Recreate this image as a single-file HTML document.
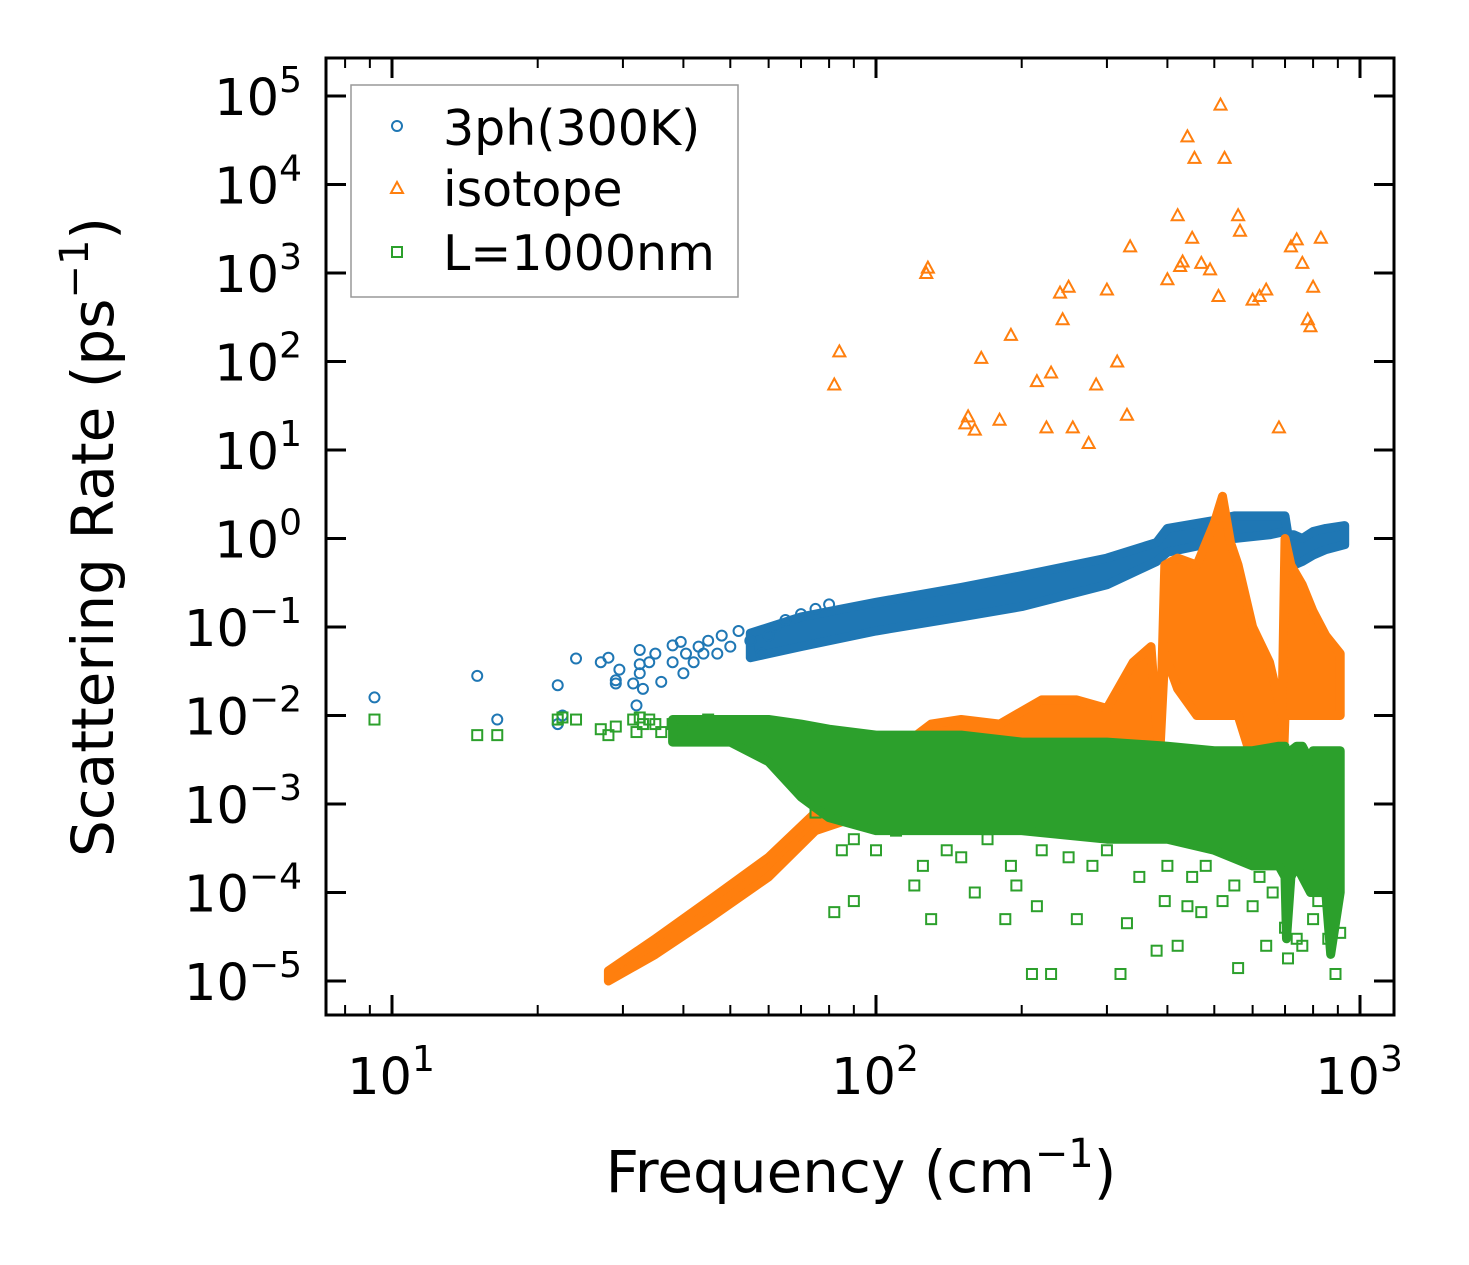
<!DOCTYPE html>
<html><head><meta charset="utf-8"><style>
html,body{margin:0;padding:0;background:#fff;}
svg{display:block;font-family:"DejaVu Sans","Liberation Sans",sans-serif;}
</style></head><body>
<svg id="chart" width="1469" height="1265" viewBox="0 0 1469 1265" xmlns="http://www.w3.org/2000/svg">
<rect width="1469" height="1265" fill="#fff"/>
<g id="marks"></g>
<g id="axes"></g>
<text x="861" y="1192" font-size="58" text-anchor="middle">Frequency (cm<tspan font-size="40" dy="-25">−1</tspan><tspan dy="25">)</tspan></text>
<text transform="translate(113,537) rotate(-90)" font-size="58" text-anchor="middle">Scattering Rate (ps<tspan font-size="40" dy="-25">−1</tspan><tspan dy="25">)</tspan></text>
<g>
<rect x="351" y="85" width="387" height="212" fill="#fff" stroke="#999" stroke-width="1.5"/>
<g>
<circle cx="397" cy="126" r="5" fill="none" stroke="#1f77b4" stroke-width="2"/>
<text x="443" y="145" font-size="49">3ph(300K)</text></g>
<g>
<polygon points="397,182 403,193 391,193" fill="none" stroke="#ff7f0e" stroke-width="2"/>
<text x="443" y="206" font-size="49">isotope</text></g>
<g>
<rect x="392" y="247" width="10" height="10" fill="none" stroke="#2ca02c" stroke-width="2"/>
<text x="443" y="270" font-size="49">L=1000nm</text></g>
</g>
</svg>
<script>
// ---- data ----
const blueX=[9.2,15,16.5,22,22.5,22,24,27,28,29,29.5,29,31.5,32,32.5,32.5,32.5,33,34,35,36,38,38,39.5,40,40.5,42,43,44,45,47,48,50,52,55,58,60,62,65,70,75,80];
const blueY=[0.016,0.028,0.009,0.022,0.01,0.008,0.044,0.04,0.045,0.025,0.033,0.023,0.023,0.013,0.055,0.038,0.03,0.02,0.04,0.05,0.024,0.062,0.04,0.068,0.03,0.05,0.04,0.06,0.05,0.07,0.05,0.08,0.06,0.09,0.07,0.05,0.08,0.1,0.12,0.14,0.16,0.18];
const blueBandX=[55,70,100,150,200,300,380,400,500,550,650,700,710,730,760,800,850,930];
const blueBandLo=[0.045,0.06,0.09,0.13,0.17,0.3,0.55,0.7,0.9,1.0,1.1,1.2,0.5,0.5,0.55,0.65,0.75,0.85];
const blueBandHi=[0.085,0.13,0.19,0.28,0.38,0.6,0.9,1.3,1.6,1.8,1.8,1.8,1.1,1.1,1.0,1.2,1.3,1.4];

const orangeX=[82,84,127,128,153,155,160,165,180,190,215,225,230,240,243,250,255,275,285,300,315,330,335,400,420,425,430,440,450,455,470,490,510,515,525,560,565,600,620,640,680,720,740,760,780,790,800,830];
const orangeY=[55,130,1000,1150,20,24,17,110,22,200,60,18,75,600,300,700,18,12,55,650,100,25,2000,850,4500,1200,1350,35000,2500,20000,1300,1100,550,80000,20000,4500,3000,500,550,650,18,2000,2400,1300,300,250,700,2500];
const orangeBandX=[28,35,45,60,75,90,110,130,150,180,220,260,300,340,370,385,395,420,460,500,520,540,560,600,650,690,700,720,760,800,850,910];
const orangeBandHi=[1.3e-5,3e-5,8e-5,2.5e-4,8e-4,2e-3,4e-3,8e-3,9e-3,8e-3,1.5e-2,1.5e-2,1.2e-2,4e-2,6e-2,3e-3,0.5,0.6,0.5,1.5,3,0.9,0.5,0.1,0.04,0.01,1.0,0.5,0.3,0.15,0.08,0.05];
const orangeBandLo=[1e-5,2e-5,5e-5,1.5e-4,5e-4,7e-4,1e-3,1.5e-3,1.5e-3,2e-3,2e-3,3e-3,3e-3,3e-3,3e-3,3e-3,0.05,0.02,0.01,0.01,0.01,0.01,0.01,3e-3,1e-3,1e-3,0.01,0.01,0.01,0.01,0.01,0.01];

const greenX=[9.2,15,16.5,22,22.5,24,27,28,29,31.5,32,32.5,33,34,35,36,38,40,42,45,48,75,82,85,90,120,130,160,185,195,210,215,230,260,320,330,380,395,420,440,470,520,560,600,640,700,710,740,760,800,820,860,890,910,90,100,110,125,140,150,170,190,220,250,280,300,350,400,450,480,550,620,660];
const greenY=[0.009,0.006,0.006,0.009,0.0095,0.009,0.007,0.006,0.0075,0.009,0.0065,0.0095,0.008,0.009,0.008,0.0065,0.008,0.007,0.008,0.009,0.008,0.0008,0.00006,0.0003,0.00008,0.00012,0.00005,0.0001,0.00005,0.00012,0.000012,0.00007,0.000012,0.00005,0.000012,0.000045,0.000022,0.00008,0.000025,0.00007,0.00006,0.00008,0.000014,0.00007,0.000025,0.00004,0.000018,0.00003,0.000025,0.00005,0.00008,0.00003,0.000012,0.000035,0.0004,0.0003,0.0005,0.0002,0.0003,0.00025,0.0004,0.0002,0.0003,0.00025,0.0002,0.0003,0.00015,0.0002,0.00015,0.0002,0.00012,0.00015,0.0001];
const greenBandX=[38,50,60,70,80,100,150,200,300,400,500,600,680,700,705,720,740,760,790,800,850,870,910];
const greenBandHi=[9e-3,9e-3,9e-3,8e-3,7e-3,6e-3,6e-3,5e-3,5e-3,4.5e-3,4e-3,4e-3,4.5e-3,4.5e-3,2e-3,4e-3,4.5e-3,4.5e-3,3e-3,4e-3,4e-3,4e-3,4e-3];
const greenBandLo=[5e-3,5e-3,3e-3,1.2e-3,7e-4,5e-4,5e-4,5e-4,4e-4,4e-4,3e-4,2e-4,2e-4,1.5e-4,3e-5,1.5e-4,2e-4,1.5e-4,1e-4,1e-4,1e-4,2e-5,1e-4];

const xTickVals=[10,100,1000];
const xTickLabels=["1","2","3"];
const yTickExp=[-5,-4,-3,-2,-1,0,1,2,3,4,5];

// ---- axes ----
const X0=326,X1=1394,Y0=58,Y1=1015;
const sx=f=>392+484*(Math.log10(f)-1);
const sy=v=>538.5-88.5*Math.log10(v);
const NS="http://www.w3.org/2000/svg";
const marks=document.getElementById('marks');
const axes=document.getElementById('axes');
function mk(tag,attrs,parent){const e=document.createElementNS(NS,tag);for(const k in attrs)e.setAttribute(k,attrs[k]);parent.appendChild(e);return e;}

function band(xs,lo,hi,color,name){
  let pts=xs.map((x,i)=>sx(x).toFixed(1)+','+sy(hi[i]).toFixed(1));
  for(let i=xs.length-1;i>=0;i--)pts.push(sx(xs[i]).toFixed(1)+','+sy(lo[i]).toFixed(1));
  const p=mk('polygon',{points:pts.join(' '),fill:color,stroke:color,'stroke-width':9,'stroke-linejoin':'round'},marks);
  
  
}
function circles(xs,ys,color){xs.forEach((x,i)=>{const c=mk('circle',{cx:sx(x),cy:sy(ys[i]),r:5,fill:'none',stroke:color,'stroke-width':2},marks);
  
  });}
function tris(xs,ys,color){xs.forEach((x,i)=>{const cx=sx(x),cy=sy(ys[i]);const t=mk('polygon',{points:`${cx},${cy-6} ${cx+6},${cy+5} ${cx-6},${cy+5}`,fill:'none',stroke:color,'stroke-width':2},marks);
  
  });}
function squares(xs,ys,color){xs.forEach((x,i)=>{const r=mk('rect',{x:sx(x)-5,y:sy(ys[i])-5,width:10,height:10,fill:'none',stroke:color,'stroke-width':2},marks);
  
  });}

band(blueBandX,blueBandLo,blueBandHi,'#1f77b4','band-3ph');
circles(blueX,blueY,'#1f77b4');
band(orangeBandX,orangeBandLo,orangeBandHi,'#ff7f0e','band-isotope');
tris(orangeX,orangeY,'#ff7f0e');
band(greenBandX,greenBandLo,greenBandHi,'#2ca02c','band-boundary');
squares(greenX,greenY,'#2ca02c');

mk('rect',{x:X0,y:Y0,width:X1-X0,height:Y1-Y0,fill:'none',stroke:'#000','stroke-width':3},axes);
xTickVals.forEach((v,i)=>{const x=sx(v);
  mk('line',{x1:x,x2:x,y1:Y1,y2:Y1-20,stroke:'#000','stroke-width':3},axes);
  mk('line',{x1:x,x2:x,y1:Y0,y2:Y0+20,stroke:'#000','stroke-width':3},axes);
  const t=mk('text',{x:x-1,y:1094,'font-size':51,'text-anchor':'middle'},axes);
  t.innerHTML='10<tspan font-size="36" dy="-23">'+xTickLabels[i]+'</tspan>';
  
  
});
for(let d=1;d<=1000;d*=10){for(let m=2;m<=9;m++){const v=d*m;const x=sx(v);if(x<X0||x>X1)continue;
  mk('line',{x1:x,x2:x,y1:Y1,y2:Y1-10,stroke:'#000','stroke-width':2},axes);
  mk('line',{x1:x,x2:x,y1:Y0,y2:Y0+10,stroke:'#000','stroke-width':2},axes);}}
yTickExp.forEach(e=>{const y=sy(Math.pow(10,e));
  mk('line',{x1:X0,x2:X0+20,y1:y,y2:y,stroke:'#000','stroke-width':3},axes);
  mk('line',{x1:X1,x2:X1-20,y1:y,y2:y,stroke:'#000','stroke-width':3},axes);
  const lab=e<0?'−'+(-e):String(e);
  const t=mk('text',{x:302,y:y+19,'font-size':51,'text-anchor':'end'},axes);
  t.innerHTML='10<tspan font-size="36" dy="-23">'+lab+'</tspan>';
  
  
});
</script>
</body></html>
